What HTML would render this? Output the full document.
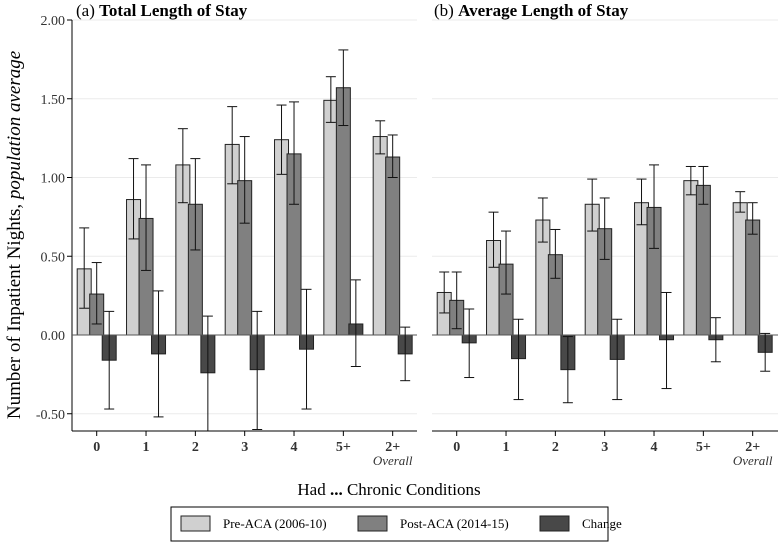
<!DOCTYPE html>
<html><head><meta charset="utf-8"><style>
body{margin:0;background:#fff;}
svg{display:block;}
text{font-family:"Liberation Serif",serif;}
</style></head><body>
<svg id="chart" width="778" height="542" viewBox="0 0 778 542">
<text x="76" y="16" font-size="17">(a) <tspan font-weight="bold">Total Length of Stay</tspan></text>
<text x="434" y="16" font-size="17">(b) <tspan font-weight="bold">Average Length of Stay</tspan></text>
<g id="pa"></g>
<g id="pb"></g>
<text transform="translate(20,235) rotate(-90)" text-anchor="middle" font-size="19">Number of Inpatient Nights, <tspan font-style="italic">population average</tspan></text>
<text x="389" y="495" text-anchor="middle" font-size="17">Had <tspan font-weight="bold">...</tspan> Chronic Conditions</text>
<g>
<rect x="171" y="507" width="437" height="34" fill="#fff" stroke="#000" stroke-width="1"/>
<rect x="181" y="516" width="29" height="15" fill="#d0d0d0" stroke="#222"/>
<text x="223" y="528" font-size="13">Pre-ACA (2006-10)</text>
<rect x="358" y="516" width="29" height="15" fill="#808080" stroke="#222"/>
<text x="400" y="528" font-size="13">Post-ACA (2014-15)</text>
<rect x="540" y="516" width="29" height="15" fill="#484848" stroke="#222"/>
<text x="582" y="528" font-size="13">Change</text>
</g>
</svg>
<script>
const categories=["0","1","2","3","4","5+","2+"];
const yTicks=[-0.5,0,0.5,1,1.5,2];
const yTickLabels=["-0.50","0.00","0.50","1.00","1.50","2.00"];
const aPre=[0.42,0.86,1.08,1.21,1.24,1.49,1.26];
const aPreLo=[0.17,0.61,0.84,0.96,1.02,1.35,1.15];
const aPreHi=[0.68,1.12,1.31,1.45,1.46,1.64,1.36];
const aPost=[0.26,0.74,0.83,0.98,1.15,1.57,1.13];
const aPostLo=[0.07,0.41,0.54,0.71,0.83,1.33,1.00];
const aPostHi=[0.46,1.08,1.12,1.26,1.48,1.81,1.27];
const aChg=[-0.16,-0.12,-0.24,-0.22,-0.09,0.07,-0.12];
const aChgLo=[-0.47,-0.52,-0.70,-0.60,-0.47,-0.20,-0.29];
const aChgHi=[0.15,0.28,0.12,0.15,0.29,0.35,0.05];
const bPre=[0.27,0.60,0.73,0.83,0.84,0.98,0.84];
const bPreLo=[0.14,0.43,0.59,0.66,0.70,0.89,0.78];
const bPreHi=[0.40,0.78,0.87,0.99,0.99,1.07,0.91];
const bPost=[0.22,0.45,0.51,0.675,0.81,0.95,0.73];
const bPostLo=[0.04,0.26,0.36,0.48,0.55,0.83,0.64];
const bPostHi=[0.40,0.66,0.67,0.87,1.08,1.07,0.84];
const bChg=[-0.05,-0.15,-0.22,-0.155,-0.03,-0.03,-0.11];
const bChgLo=[-0.27,-0.41,-0.43,-0.41,-0.34,-0.17,-0.23];
const bChgHi=[0.165,0.10,-0.01,0.10,0.27,0.11,0.01];

const NS="http://www.w3.org/2000/svg";
const yTop=20,yBot=431;
function yScale(v){return 335-v*157.5;}
function mk(tag,attrs,parent){const e=document.createElementNS(NS,tag);for(const k in attrs)e.setAttribute(k,attrs[k]);parent.appendChild(e);return e;}

function drawPanel(g,x0,x1,firstX,showY,series,pfx){
  const clipId=pfx+"clip";
  const cp=mk("clipPath",{id:clipId},g);
  mk("rect",{x:x0,y:yTop,width:x1-x0,height:yBot-yTop},cp);
  yTicks.forEach((t,i)=>{
    if(t===0)return;
    const gl=mk("line",{x1:x0,x2:x1,y1:yScale(t),y2:yScale(t),stroke:"#ebebeb","stroke-width":1},g);
    
    
    if(showY){
      const tk=mk("line",{x1:x0-5,x2:x0,y1:yScale(t),y2:yScale(t),stroke:"#000"},g);
      
      
    }
  });
  if(showY){
    yTicks.forEach((t,i)=>{
      const tx=mk("text",{x:x0-7,y:yScale(t)+5,"text-anchor":"end","font-size":14,fill:"#333"},g);
      tx.textContent=yTickLabels[i];
      
      
    });
    const ya=mk("line",{x1:x0,x2:x0,y1:yTop,y2:yBot,stroke:"#000"},g);
    
    
  }
  const bars=mk("g",{"clip-path":"url(#"+clipId+")"},g);
  const offs=[-12.5,0,12.5];
  const fills=["#d0d0d0","#808080","#484848"];
  const names=["pre","post","change"];
  categories.forEach((c,i)=>{
    const cx=firstX+i*49.33;
    series.forEach((s,j)=>{
      const v=s[0][i],bx=cx+offs[j]-7;
      const r=mk("rect",{x:bx,y:Math.min(yScale(v),yScale(0)),width:14,height:Math.abs(yScale(v)-yScale(0)),fill:fills[j],stroke:"#222","stroke-width":1},bars);
      
      
    });
  });
  const zl=mk("line",{x1:x0,x2:x1,y1:yScale(0),y2:yScale(0),stroke:"#555"},bars);
  
  
  categories.forEach((c,i)=>{
    const cx=firstX+i*49.33;
    series.forEach((s,j)=>{
      const ex=cx+offs[j];
      const lo=yScale(s[1][i]),hi=yScale(s[2][i]);
      const eg=mk("g",{stroke:"#111","stroke-width":1},bars);
      
      
      mk("line",{x1:ex,x2:ex,y1:lo,y2:hi},eg);
      mk("line",{x1:ex-5,x2:ex+5,y1:lo,y2:lo},eg);
      mk("line",{x1:ex-5,x2:ex+5,y1:hi,y2:hi},eg);
    });
    const tk=mk("line",{x1:cx,x2:cx,y1:yBot,y2:yBot+5,stroke:"#000"},g);
    
    
    const tl=mk("text",{x:cx,y:yBot+20,"text-anchor":"middle","font-size":14,"font-weight":"bold",fill:"#333"},g);
    tl.textContent=c;
    
    
    if(i===categories.length-1){
      const ov=mk("text",{x:cx,y:yBot+34,"text-anchor":"middle","font-size":13,"font-style":"italic",fill:"#333"},g);
      ov.textContent="Overall";
      
      
    }
  });
  const xa=mk("line",{x1:x0,x2:x1,y1:yBot,y2:yBot,stroke:"#000"},g);
  
  
}
drawPanel(document.getElementById("pa"),72,417,96.7,true,[[aPre,aPreLo,aPreHi],[aPost,aPostLo,aPostHi],[aChg,aChgLo,aChgHi]],"a");
drawPanel(document.getElementById("pb"),432,778,456.7,false,[[bPre,bPreLo,bPreHi],[bPost,bPostLo,bPostHi],[bChg,bChgLo,bChgHi]],"b");
</script>
</body></html>
